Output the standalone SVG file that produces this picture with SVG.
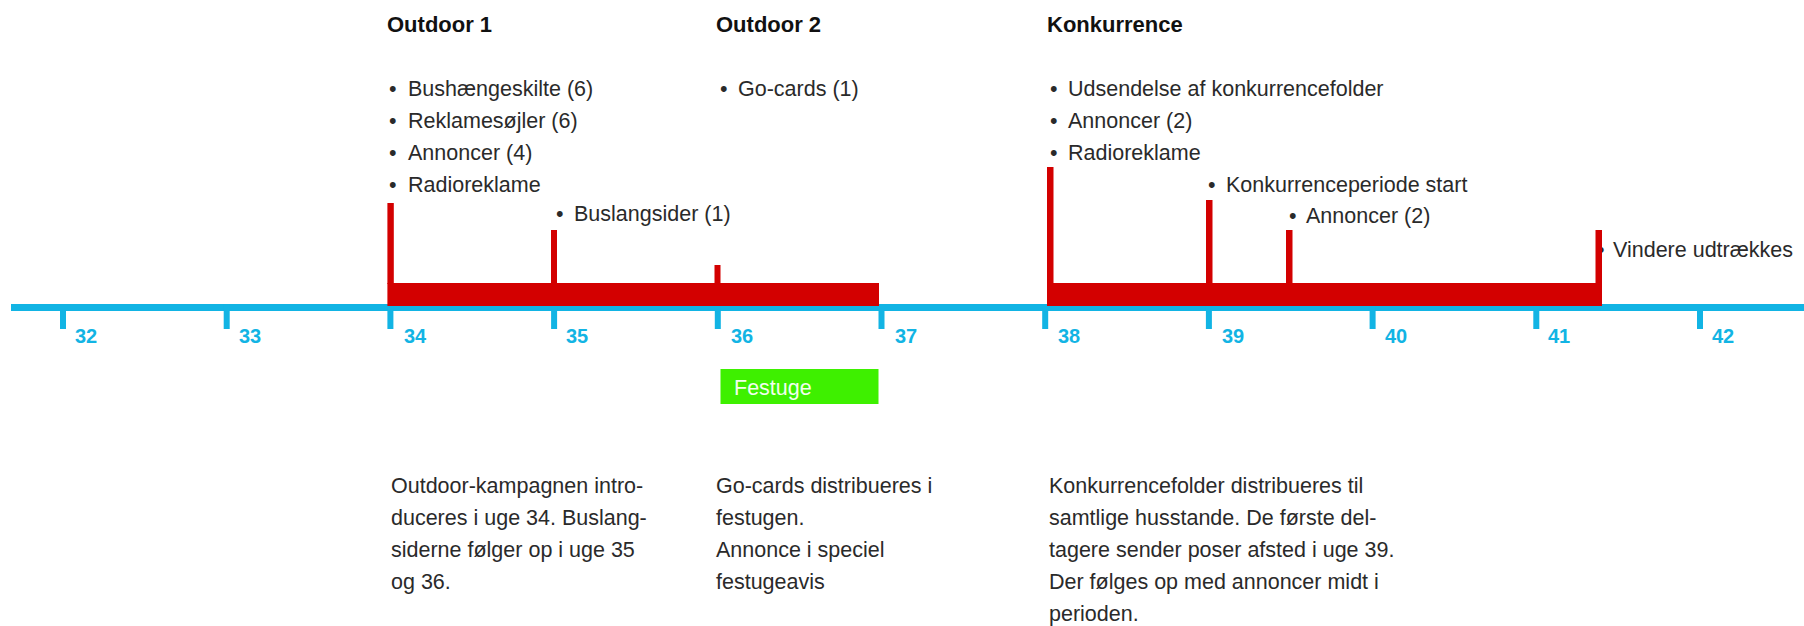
<svg xmlns="http://www.w3.org/2000/svg" width="1804" height="626" viewBox="0 0 1804 626">
<style>
.t{font-family:"Liberation Sans",Arial,sans-serif;font-size:21.5px;fill:#2a2a2a}
.h{font-family:"Liberation Sans",Arial,sans-serif;font-size:22px;font-weight:bold;fill:#111}
.wk{font-family:"Liberation Sans",Arial,sans-serif;font-size:20px;font-weight:bold;fill:#12b4e4}
.blue{fill:#12b4e4}
.red{fill:#d30000}
</style>
<rect width="1804" height="626" fill="#fff"/>
<g id="axis">
<rect class="blue" x="11" y="304" width="1793" height="7"/>
<rect class="blue" x="60" y="304" width="6" height="25"/>
<rect class="blue" x="223.7" y="304" width="6" height="25"/>
<rect class="blue" x="387.4" y="304" width="6" height="25"/>
<rect class="blue" x="551.1" y="304" width="6" height="25"/>
<rect class="blue" x="714.8" y="304" width="6" height="25"/>
<rect class="blue" x="878.5" y="304" width="6" height="25"/>
<rect class="blue" x="1042.2" y="304" width="6" height="25"/>
<rect class="blue" x="1205.9" y="304" width="6" height="25"/>
<rect class="blue" x="1369.6" y="304" width="6" height="25"/>
<rect class="blue" x="1533.3" y="304" width="6" height="25"/>
<rect class="blue" x="1697" y="304" width="6" height="25"/>
<text class="wk" x="75" y="343">32</text>
<text class="wk" x="239" y="343">33</text>
<text class="wk" x="404" y="343">34</text>
<text class="wk" x="566" y="343">35</text>
<text class="wk" x="731" y="343">36</text>
<text class="wk" x="895" y="343">37</text>
<text class="wk" x="1058" y="343">38</text>
<text class="wk" x="1222" y="343">39</text>
<text class="wk" x="1385" y="343">40</text>
<text class="wk" x="1548" y="343">41</text>
<text class="wk" x="1712" y="343">42</text>
</g>
<g id="outdoor1">
<text class="h" x="387" y="32">Outdoor 1</text>
<text class="t" x="389" y="96">•<tspan x="408">Bushængeskilte (6)</tspan></text>
<text class="t" x="389" y="128">•<tspan x="408">Reklamesøjler (6)</tspan></text>
<text class="t" x="389" y="160">•<tspan x="408">Annoncer (4)</tspan></text>
<text class="t" x="389" y="192">•<tspan x="408">Radioreklame</tspan></text>
<text class="t" x="556" y="221">•<tspan x="574">Buslangsider (1)</tspan></text>
</g>
<g id="outdoor2">
<text class="h" x="716" y="32">Outdoor 2</text>
<text class="t" x="720" y="96">•<tspan x="738">Go-cards (1)</tspan></text>
</g>
<g id="konkurrence">
<text class="h" x="1047" y="32">Konkurrence</text>
<text class="t" x="1050" y="96">•<tspan x="1068">Udsendelse af konkurrencefolder</tspan></text>
<text class="t" x="1050" y="128">•<tspan x="1068">Annoncer (2)</tspan></text>
<text class="t" x="1050" y="160">•<tspan x="1068">Radioreklame</tspan></text>
<text class="t" x="1208" y="192">•<tspan x="1226">Konkurrenceperiode start</tspan></text>
<text class="t" x="1289" y="223">•<tspan x="1306">Annoncer (2)</tspan></text>
<text class="t" x="1597" y="257">•<tspan x="1613">Vindere udtrækkes</tspan></text>
</g>
<g id="connectors">
<rect class="red" x="387.4" y="283" width="491.6" height="23"/>
<rect class="red" x="387.4" y="203" width="6.4" height="81"/>
<rect class="red" x="551" y="230" width="6" height="54"/>
<rect class="red" x="714.5" y="265" width="6" height="19"/>
<rect class="red" x="1047" y="283" width="555" height="23"/>
<rect class="red" x="1047" y="167" width="6.5" height="117"/>
<rect class="red" x="1206" y="200" width="6.5" height="84"/>
<rect class="red" x="1286" y="230" width="6.5" height="54"/>
<rect class="red" x="1595.5" y="230" width="6.5" height="54"/>
</g>
<g id="festuge">
<rect x="720.5" y="369" width="158" height="35" fill="#3ef000"/>
<text class="t" x="734" y="395" style="fill:#f2ffee">Festuge</text>
</g>
<g id="notes">
<text class="t" x="391" y="493">Outdoor-kampagnen intro-</text>
<text class="t" x="391" y="525">duceres i uge 34. Buslang-</text>
<text class="t" x="391" y="557">siderne følger op i uge 35</text>
<text class="t" x="391" y="589">og 36.</text>
<text class="t" x="716" y="493">Go-cards distribueres i</text>
<text class="t" x="716" y="525">festugen.</text>
<text class="t" x="716" y="557">Annonce i speciel</text>
<text class="t" x="716" y="589">festugeavis</text>
<text class="t" x="1049" y="493">Konkurrencefolder distribueres til</text>
<text class="t" x="1049" y="525">samtlige husstande. De første del-</text>
<text class="t" x="1049" y="557">tagere sender poser afsted i uge 39.</text>
<text class="t" x="1049" y="589">Der følges op med annoncer midt i</text>
<text class="t" x="1049" y="621">perioden.</text>
</g>
</svg>
